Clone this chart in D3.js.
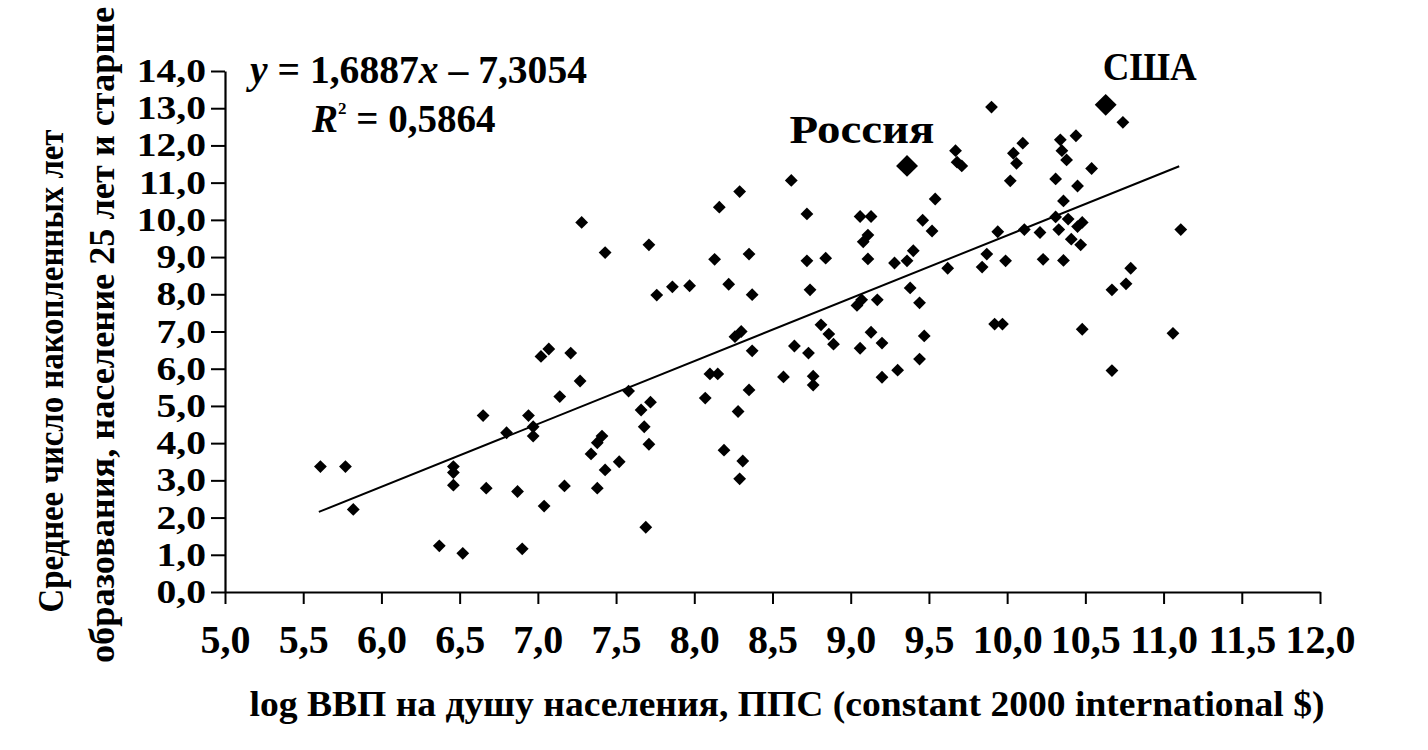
<!DOCTYPE html>
<html>
<head>
<meta charset="utf-8">
<script src="https://cdn.jsdelivr.net/npm/d3@7"></script>
<style>
  html, body { margin: 0; padding: 0; background: #fff; }
  svg { display: block; }
  text { font-family: "Liberation Serif", "Times New Roman", serif; fill: #000; font-weight: bold; }
</style>
</head>
<body>
<svg id="chart" width="1428" height="750"></svg>
<script>
// ---- data ----
const gdpLog = [
  5.61, 5.77, 5.82, 6.37, 6.46, 6.46, 6.46, 6.52, 6.65, 6.67,
  6.80, 6.87, 6.90, 6.94, 6.97, 6.97, 7.02, 7.07, 7.04, 7.21,
  7.14, 7.27, 7.17, 7.34, 7.38, 7.41, 7.43, 7.38, 7.52, 7.58,
  7.66, 7.72, 7.68, 7.71, 7.69, 8.10, 8.15, 8.07, 8.28, 8.19,
  8.31, 8.29, 8.35, 7.28, 7.43, 7.71, 7.76, 7.86, 7.97, 8.62,
  8.29, 8.16, 8.72, 9.06, 9.13, 9.11, 9.08, 9.54, 9.46, 9.52,
  9.94, 10.02, 8.13, 8.35, 8.72, 8.84, 9.11, 9.28, 9.36, 9.40,
  9.87, 9.84, 9.99, 9.62, 8.22, 8.37, 8.74, 9.38, 9.44, 9.07,
  9.04, 9.17, 8.26, 8.30, 8.37, 8.81, 8.86, 8.89, 8.64, 8.73,
  9.13, 9.20, 9.06, 9.47, 9.44, 9.30, 9.20, 9.92, 9.97, 8.57,
  8.76, 8.76, 10.74, 9.90, 9.67, 9.68, 9.71, 10.10, 10.04, 10.06,
  10.34, 10.35, 10.38, 10.44, 10.54, 10.31, 10.45, 10.36, 10.31, 10.39,
  10.33, 10.48, 10.45, 10.21, 10.11, 10.23, 10.36, 10.41, 10.47, 11.11,
  10.79, 10.76, 10.67, 10.48, 11.06, 10.67
];
const schooling = [
  3.37, 3.37, 2.22, 1.24, 3.37, 3.21, 2.87, 1.04, 4.74, 2.79,
  4.28, 2.70, 1.16, 4.74, 4.44, 4.19, 6.33, 6.53, 2.31, 6.42,
  5.25, 5.67, 2.85, 3.71, 4.01, 4.19, 3.28, 2.79, 3.50, 5.40,
  4.89, 5.10, 4.44, 3.97, 1.74, 5.86, 5.86, 5.21, 4.85, 3.81,
  3.52, 3.04, 5.43, 9.93, 9.12, 9.33, 7.98, 8.20, 8.23, 11.06,
  10.76, 10.34, 10.16, 10.09, 10.09, 9.59, 9.41, 10.56, 9.99, 9.70,
  9.68, 11.05, 8.94, 9.08, 8.90, 8.97, 8.95, 8.84, 8.90, 9.17,
  9.08, 8.73, 8.90, 8.70, 8.27, 7.99, 8.12, 8.17, 7.77, 7.85,
  7.70, 7.85, 6.86, 7.00, 6.48, 7.18, 6.93, 6.66, 6.61, 6.42,
  6.98, 6.69, 6.55, 6.88, 6.26, 5.96, 5.77, 7.20, 7.20, 5.78,
  5.80, 5.56, 12.62, 13.03, 11.86, 11.55, 11.45, 12.06, 11.79, 11.52,
  12.15, 11.86, 11.61, 12.26, 11.38, 11.10, 10.91, 10.51, 10.08, 10.02,
  9.74, 9.93, 9.82, 9.66, 9.74, 8.94, 8.91, 9.48, 9.33, 9.74,
  8.70, 8.28, 8.12, 7.06, 6.95, 5.95
];
const highlightNames = ["Россия", "США"];
const highlightX = [9.36, 10.63];
const highlightY = [11.45, 13.09];

const xTickValues = [5.0, 5.5, 6.0, 6.5, 7.0, 7.5, 8.0, 8.5, 9.0, 9.5, 10.0, 10.5, 11.0, 11.5, 12.0];
const yTickValues = [0, 1, 2, 3, 4, 5, 6, 7, 8, 9, 10, 11, 12, 13, 14];

const trendSlope = 1.6887;
const trendIntercept = -7.3054;
const trendX = [5.6, 11.1];
const rSquared = "0,5864";

const xTitle = "log ВВП на душу населения, ППС (constant 2000 international $)";
const yTitle1 = "Среднее число накопленных лет";
const yTitle2 = "образования, население 25 лет и старше";

// ---- drawing ----
const svg = d3.select("#chart");
svg.append("rect").attr("width", 1428).attr("height", 750).attr("fill", "#fff");

const x = d3.scaleLinear().domain([5, 12]).range([225, 1320]);
const y = d3.scaleLinear().domain([0, 14]).range([592, 71]);
const fmt = v => d3.format(".1f")(v).replace(".", ",");

// x axis
const gx = svg.append("g").attr("transform", `translate(0,${y(0)})`)
  .call(d3.axisBottom(x).tickValues(xTickValues).tickFormat(fmt).tickSize(12).tickSizeOuter(0));
gx.select(".domain").attr("stroke", "#000").attr("stroke-width", 2.2);
gx.selectAll(".tick line").attr("stroke", "#000").attr("stroke-width", 2);
gx.selectAll(".tick text").attr("font-size", 40).attr("y", 33)
  .attr("font-family", "Liberation Serif").attr("font-weight", "bold");

// y axis
const yLabelStretch = 1.2;
const gy = svg.append("g").attr("transform", `translate(${x(5)},0)`)
  .call(d3.axisLeft(y).tickValues(yTickValues).tickFormat(fmt).tickSize(14).tickSizeOuter(0));
gy.select(".domain").attr("stroke", "#000").attr("stroke-width", 2.2);
gy.selectAll(".tick line").attr("stroke", "#000").attr("stroke-width", 2);
gy.selectAll(".tick text").attr("font-size", 33)
  .attr("x", -19 / yLabelStretch)
  .attr("transform", `scale(${yLabelStretch},1)`)
  .attr("font-family", "Liberation Serif").attr("font-weight", "bold");

// trend line
const line = d3.line().x(d => x(d)).y(d => y(trendSlope * d + trendIntercept));
svg.append("path").datum(trendX).attr("d", line)
  .attr("fill", "none").attr("stroke", "#000").attr("stroke-width", 2);

// points
const pts = gdpLog.map((v, i) => ({ x: v, y: schooling[i] }));
const diamond = d3.symbol().type(d3.symbolSquare).size(82);
svg.append("g").selectAll("path").data(pts).join("path")
  .attr("d", diamond)
  .attr("transform", d => `translate(${x(d.x)},${y(d.y)}) rotate(45)`)
  .attr("fill", "#000");

const hl = highlightNames.map((n, i) => ({ name: n, x: highlightX[i], y: highlightY[i] }));
const bigDiamond = d3.symbol().type(d3.symbolSquare).size(240);
svg.append("g").selectAll("path").data(hl).join("path")
  .attr("d", bigDiamond)
  .attr("transform", d => `translate(${x(d.x)},${y(d.y)}) rotate(45)`)
  .attr("fill", "#000");

const labelOffsets = [[-45, -23], [44, -25]];
const labelWidths = [145, 94];
svg.append("g").selectAll("text").data(hl).join("text")
  .attr("x", (d, i) => x(d.x) + labelOffsets[i][0])
  .attr("y", (d, i) => y(d.y) + labelOffsets[i][1])
  .attr("text-anchor", "middle").attr("font-size", 41)
  .attr("textLength", (d, i) => labelWidths[i]).attr("lengthAdjust", "spacingAndGlyphs")
  .text(d => d.name);

// equation
const eq = svg.append("text").attr("x", 250).attr("y", 83).attr("font-size", 39)
  .attr("textLength", 337).attr("lengthAdjust", "spacingAndGlyphs");
eq.append("tspan").attr("font-style", "italic").text("y");
eq.append("tspan").text(" = " + String(trendSlope).replace(".", ","));
eq.append("tspan").attr("font-style", "italic").text("x");
eq.append("tspan").text(" – " + String(Math.abs(trendIntercept)).replace(".", ","));

const r2 = svg.append("text").attr("x", 312).attr("y", 132).attr("font-size", 39);
r2.append("tspan").attr("font-style", "italic").text("R");
r2.append("tspan").attr("font-size", 17).attr("dy", -18).text("2");
r2.append("tspan").attr("dy", 18).text(" = " + rSquared);

// axis titles
svg.append("text").attr("x", 787).attr("y", 716).attr("text-anchor", "middle")
  .attr("font-size", 36).attr("textLength", 1075).attr("lengthAdjust", "spacingAndGlyphs")
  .text(xTitle);

svg.append("text").attr("transform", "translate(63,371) rotate(-90)")
  .attr("text-anchor", "middle").attr("font-size", 36)
  .attr("textLength", 483).attr("lengthAdjust", "spacingAndGlyphs")
  .text(yTitle1);
svg.append("text").attr("transform", "translate(114,335) rotate(-90)")
  .attr("text-anchor", "middle").attr("font-size", 36)
  .attr("textLength", 656).attr("lengthAdjust", "spacingAndGlyphs")
  .text(yTitle2);
</script>
</body>
</html>
